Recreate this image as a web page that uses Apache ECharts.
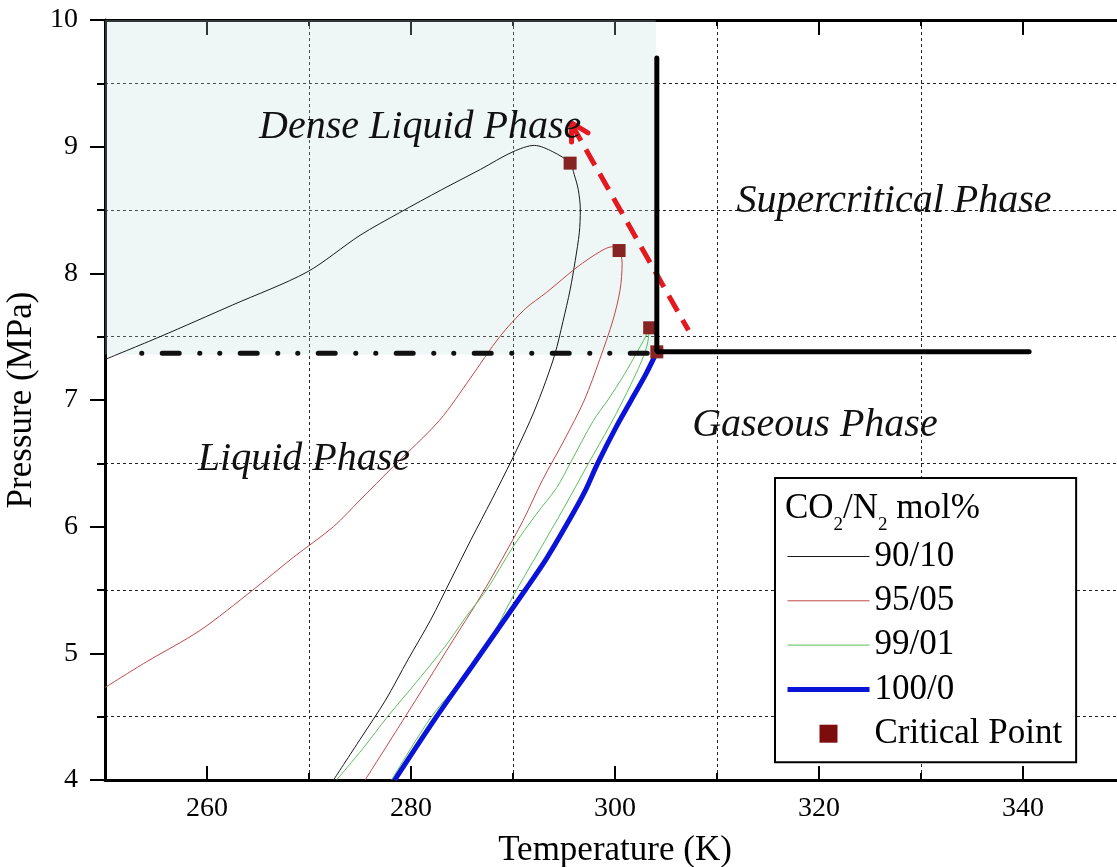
<!DOCTYPE html>
<html>
<head>
<meta charset="utf-8">
<title>CO2/N2 phase envelope</title>
<script src="https://cdn.jsdelivr.net/npm/echarts@6.0.0/dist/echarts.min.js"></script>
<style>
    html, body {margin: 0; padding: 0; background: #fff;}
    #phase-chart {width: 1117px; height: 867px;}
</style>
</head>
<body>
<div id="phase-chart"></div>
<script>
// axis ticks
var xMajorTicks = [260, 280, 300, 320, 340];

// phase envelopes, [T (K), P (MPa)]
var env9010 = [[250, 7.32], [255.4, 7.5], [262.5, 7.75], [269.8, 8.01], [275, 8.3], [278.9, 8.48], [283, 8.66],
    [286.8, 8.82], [290, 8.96], [292.1, 9.01], [293.9, 8.96], [295.6, 8.87], [296.0, 8.78], [296.4, 8.66],
    [296.6, 8.5], [296.5, 8.32], [296.1, 8.1], [295.6, 7.87], [294.9, 7.62], [294.1, 7.36], [292.9, 7.08],
    [291.7, 6.84], [289.9, 6.53], [287.9, 6.21], [285.9, 5.9], [283.9, 5.58], [281.9, 5.26], [279.7, 4.95],
    [277.5, 4.63], [275.0, 4.32], [272.4, 4.0]];
var env9505 = [[250, 4.73], [254, 4.93], [259.3, 5.18], [264.5, 5.5], [268.5, 5.76], [272.4, 6.0], [275, 6.21],
    [278.2, 6.47], [282.8, 6.84], [285.8, 7.17], [288.7, 7.5], [291.2, 7.72], [293.3, 7.85], [296.3, 8.05],
    [298.5, 8.17], [299.7, 8.21], [300.4, 8.18], [300.7, 8.08], [300.5, 7.87], [299.8, 7.63], [298.5, 7.32],
    [297.0, 7.0], [295.0, 6.68], [292.9, 6.37], [291.0, 6.05], [288.9, 5.74], [286.6, 5.42], [284.1, 5.1],
    [281.7, 4.79], [279.2, 4.47], [275.5, 4.0]];
var env9901 = [[272.7, 4.0], [275.3, 4.25], [277.7, 4.5], [280.5, 4.77], [283.3, 5.05], [285.5, 5.3], [287.4, 5.5],
    [290.0, 5.84], [292.3, 6.1], [294.3, 6.31], [295.6, 6.5], [297.9, 6.84], [299.3, 7.0], [300.9, 7.2],
    [302.1, 7.37], [302.8, 7.47], [303.4, 7.57], [303.2, 7.45], [302.9, 7.37], [302.3, 7.25], [300.8, 7.0],
    [299.5, 6.8], [297.4, 6.5], [295.0, 6.15], [292.5, 5.8], [290.0, 5.45], [287.7, 5.1], [285.6, 4.85],
    [282.0, 4.5], [278.1, 4.0]];
var env1000 = [[278.4, 4.0], [282.5, 4.5], [286.0, 4.9], [288.6, 5.2], [291.2, 5.5], [293.3, 5.75], [295.5, 6.05],
    [297.0, 6.27], [298.3, 6.5], [300.2, 6.8], [301.6, 7.0], [303.0, 7.2], [304.1, 7.38]];

// critical points of the four mixtures
var criticalPoints = [[295.6, 8.87], [300.4, 8.18], [303.4, 7.57], [304.1, 7.38]];

// phase boundaries of pure CO2
var criticalPressureLine = [[253.6, 7.37], [304.1, 7.37]];
var supercriticalBoundary = [[340.6, 7.38], [304.1, 7.38], [304.1, 9.7]];
var denseLiquidArea = [[250, 7.36], [304.0, 10]];

// red trend arrow
var trendShaft = [[295.8, 9.17], [307.2, 7.55]];
var trendHead = [[297.35, 9.108], [295.74, 9.187], [295.74, 9.037]];

// region names
var phaseLabels = [
    {name: 'Dense Liquid Phase', value: [280.9, 9.155]},
    {name: 'Supercritical Phase', value: [327.35, 8.57]},
    {name: 'Gaseous Phase', value: [319.6, 6.8]},
    {name: 'Liquid Phase', value: [269.5, 6.534]}
];

var SERIF = 'Liberation Serif, Times New Roman, serif';

/**
 * plain curve series
 */
function curve(name, data, color, width) {
    return {
        name: name,
        type: 'line',
        data: data,
        symbol: 'none',
        smooth: 0.3,
        z: 2,
        color: color,
        lineStyle: {color: color, width: width}
    };
}

/**
 * legend entry that shows only the line
 */
function lineEntry(name, width) {
    return {name: name, itemStyle: {opacity: 0}, lineStyle: {width: width}};
}

var dom = document.getElementById('phase-chart');
var myChart = echarts.init(dom);

var option = {
    animation: false,
    title: {
        left: 785,
        top: 491,
        padding: 0,
        text: '{m|CO}{s|2}{m|/N}{s|2}{m| mol%}',
        textStyle: {
            fontWeight: 'normal',
            rich: {
                m: {fontFamily: SERIF, fontSize: 35, fontWeight: 'normal', lineHeight: 35, color: '#000', verticalAlign: 'top'},
                s: {fontFamily: SERIF, fontSize: 19, fontWeight: 'normal', lineHeight: 19, color: '#000', verticalAlign: 'top', padding: [25, 0, 0, 0]}
            }
        }
    },
    legend: {
        orient: 'vertical',
        left: 775,
        top: 478,
        padding: [61, 14, 11, 10],
        itemWidth: 82,
        itemHeight: 18,
        itemGap: 9.3,
        borderColor: '#000',
        borderWidth: 2,
        backgroundColor: '#fff',
        selectedMode: false,
        symbolKeepAspect: true,
        textStyle: {fontFamily: SERIF, fontSize: 35, color: '#000'},
        data: [lineEntry('90/10', 1), lineEntry('95/05', 1), lineEntry('99/01', 1), lineEntry('100/0', 5),
            {name: 'Critical Point', icon: 'path://M0 0H10V10H0Z', itemStyle: {color: '#7d0c0c', opacity: 1}}]
    },
    grid: [
        {left: 105, top: 20, right: -8, bottom: 87, outerBoundsMode: 'none'},
        {left: 105, top: 20, right: -8, bottom: 87, outerBoundsMode: 'none'}
    ],
    xAxis: [
        {
            gridIndex: 0, type: 'value', position: 'bottom', min: 250, max: 350, interval: 10,
            axisLine: {lineStyle: {color: '#000', width: 3}},
            axisTick: {inside: true, length: 14, customValues: xMajorTicks, lineStyle: {color: '#000', width: 2}},
            axisLabel: {customValues: xMajorTicks, fontFamily: SERIF, fontSize: 28, color: '#000', margin: 15},
            splitLine: {show: false},
            name: 'Temperature (K)', nameLocation: 'middle', nameGap: 53,
            nameTextStyle: {fontFamily: SERIF, fontSize: 35, color: '#000'}
        },
        {
            gridIndex: 0, type: 'value', position: 'top', min: 250, max: 350, interval: 10,
            axisLine: {lineStyle: {color: '#000', width: 3}},
            axisTick: {inside: true, length: 15, customValues: xMajorTicks, lineStyle: {color: '#000', width: 2}},
            axisLabel: {show: false},
            splitLine: {show: false}
        },
        {
            // minor ticks and grid lines at 270, 290, ...
            gridIndex: 1, type: 'value', position: 'bottom', min: 250, max: 350, interval: 20,
            axisLine: {show: false},
            axisTick: {inside: true, length: 7, lineStyle: {color: '#000', width: 2}},
            axisLabel: {show: false},
            splitLine: {show: true, lineStyle: {color: '#222', width: 1, type: [3, 3]}}
        },
        {
            gridIndex: 1, type: 'value', position: 'top', min: 250, max: 350, interval: 20,
            axisLine: {show: false},
            axisTick: {inside: true, length: 6, lineStyle: {color: '#000', width: 2}},
            axisLabel: {show: false},
            splitLine: {show: false}
        }
    ],
    yAxis: [
        {
            gridIndex: 0, type: 'value', min: 4, max: 10, interval: 1,
            axisLine: {show: true, lineStyle: {color: '#000', width: 3}},
            axisTick: {show: true, inside: false, length: 15, lineStyle: {color: '#000', width: 2}},
            minorTick: {show: true, splitNumber: 2, length: 8, lineStyle: {color: '#000', width: 2}},
            minorSplitLine: {show: true, lineStyle: {color: '#222', width: 1, type: [3, 3]}},
            splitLine: {show: false},
            axisLabel: {fontFamily: SERIF, fontSize: 28, color: '#000', margin: 27},
            name: 'Pressure (MPa)', nameLocation: 'middle', nameGap: 58,
            nameTextStyle: {fontFamily: SERIF, fontSize: 35, color: '#000'}
        },
        {gridIndex: 1, type: 'value', min: 4, max: 10, show: false}
    ],
    series: [
        {
            type: 'line', data: [], z: 1, silent: true,
            markArea: {
                silent: true,
                itemStyle: {color: 'rgba(187,219,219,0.25)'},
                data: [[{coord: denseLiquidArea[0]}, {coord: denseLiquidArea[1]}]]
            }
        },
        curve('90/10', env9010, '#1a1a1a', 1),
        curve('95/05', env9505, '#c04848', 1),
        curve('99/01', env9901, '#5cbf5c', 1),
        curve('100/0', env1000, '#0a14d8', 5),
        {
            type: 'line', data: criticalPressureLine, symbol: 'none', z: 2,
            lineStyle: {color: '#111', width: 5, type: [0.1, 20.4, 17, 20.5, 0.1, 19.9], cap: 'round'}
        },
        {
            name: 'Critical Point', type: 'scatter', data: criticalPoints,
            symbol: 'rect', symbolSize: 13, z: 3,
            itemStyle: {color: '#862424', opacity: 1}
        },
        {
            type: 'line', data: supercriticalBoundary, symbol: 'none', z: 4,
            lineStyle: {color: '#000', width: 5, cap: 'round'}
        },
        {
            type: 'line', data: trendShaft, symbol: 'none', z: 3,
            lineStyle: {color: '#e4191f', width: 5, type: [18, 10]}
        },
        {
            type: 'line', data: trendHead, symbol: 'none', z: 3,
            lineStyle: {color: '#e4191f', width: 5, cap: 'round', join: 'round'}
        },
        {
            type: 'scatter', data: phaseLabels, symbolSize: 0, z: 5, silent: true,
            itemStyle: {opacity: 1},
            label: {
                show: true, position: 'inside', formatter: '{b}', opacity: 1,
                fontFamily: SERIF, fontStyle: 'italic', fontSize: 40, color: '#111'
            }
        }
    ]
};
myChart.setOption(option);
</script>
</body>
</html>
